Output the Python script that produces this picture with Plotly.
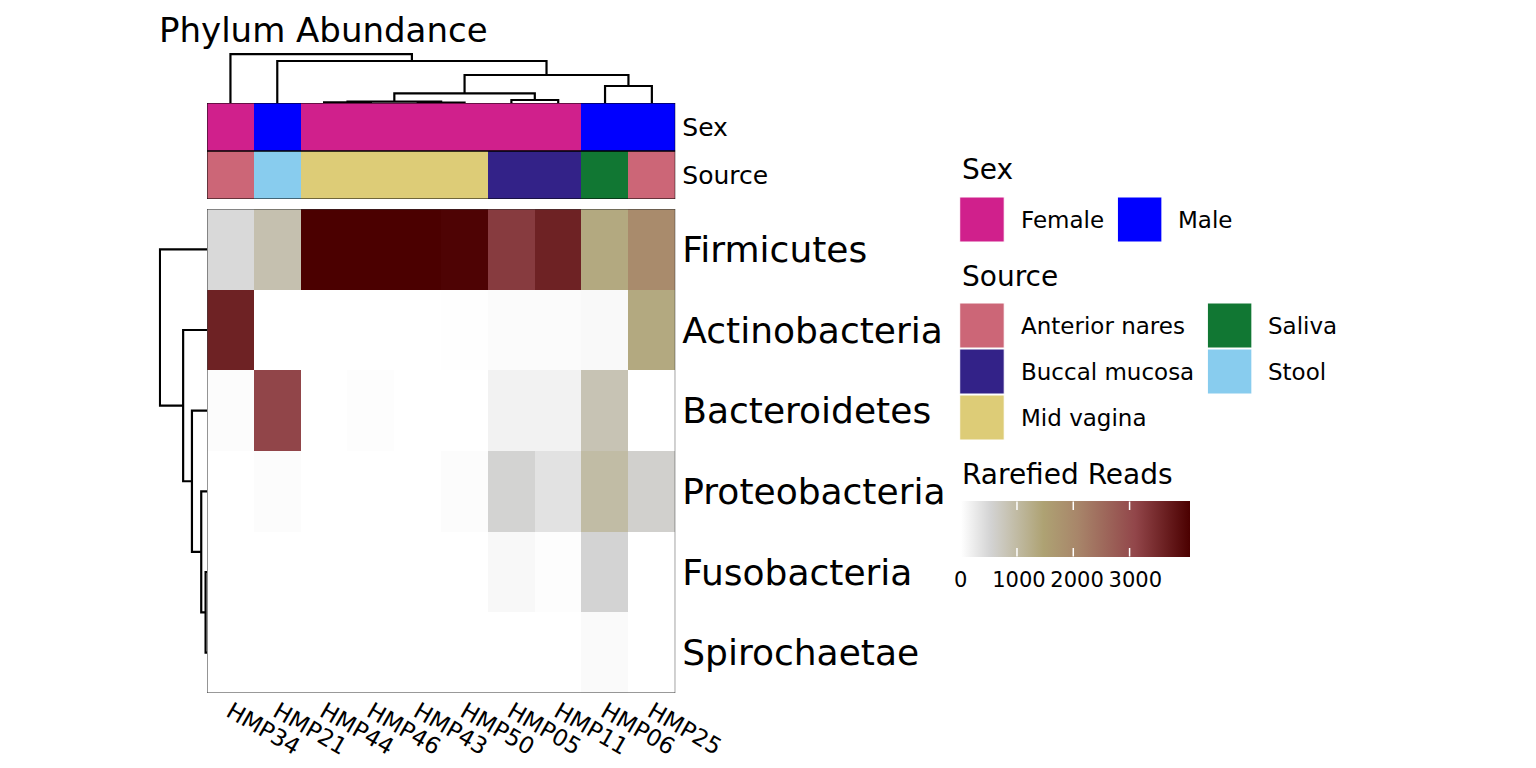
import plotly.graph_objects as go

W, H = 1536, 768
FONT = "DejaVu Sans"

# ---------------- data ----------------
samples = ["HMP34", "HMP21", "HMP44", "HMP46", "HMP43",
           "HMP50", "HMP05", "HMP11", "HMP06", "HMP25"]
phyla = ["Firmicutes", "Actinobacteria", "Bacteroidetes",
         "Proteobacteria", "Fusobacteria", "Spirochaetae"]
sex = ["Female", "Male", "Female", "Female", "Female",
       "Female", "Female", "Female", "Male", "Male"]
source = ["Anterior nares", "Stool", "Mid vagina", "Mid vagina", "Mid vagina",
          "Mid vagina", "Buccal mucosa", "Buccal mucosa", "Saliva", "Anterior nares"]

firmicutes     = [440, 855, 3935, 3935, 3935, 3890, 3135, 3470, 1290, 1895]
actinobacteria = [3470, 0, 0, 0, 3, 8, 45, 45, 70, 1290]
bacteroidetes  = [35, 3000, 0, 23, 3, 0, 150, 150, 800, 0]
proteobacteria = [0, 35, 0, 0, 0, 35, 520, 336, 945, 565]
fusobacteria   = [0, 0, 0, 0, 0, 0, 81, 23, 515, 0]
spirochaetae   = [0, 0, 0, 0, 0, 0, 0, 0, 58, 0]

sex_levels = ["Female", "Male"]
sex_colors = ["#D0208C", "#0000FF"]
source_levels = ["Anterior nares", "Buccal mucosa", "Mid vagina", "Saliva", "Stool"]
source_colors = ["#CC6677", "#332288", "#DDCC77", "#117733", "#88CCEE"]

cbar_ticks = [0, 1000, 2000, 3000]

# column dendrogram merges: (left, right, height); ints refer to earlier merges (1-based)
col_merges = [("HMP43", "HMP50", 0.3), ("HMP44", "HMP46", 0.6), (2, 1, 1.3),
              ("HMP05", "HMP11", 3.0), (3, 4, 9.7), ("HMP06", "HMP25", 17.0),
              (5, 6, 28.0), ("HMP21", 7, 42.0), ("HMP34", 8, 48.8)]
row_merges = [("Fusobacteria", "Spirochaetae", 1.5), ("Proteobacteria", 1, 6.0),
              ("Bacteroidetes", 2, 15.6), ("Actinobacteria", 3, 24.7),
              ("Firmicutes", 4, 48.7)]

# ---------------- helpers ----------------
def px_x(p):
    return p / W

def px_y(p):
    return 1 - p / H

def dendro(merges, leaves):
    pos = {}
    xs, ys = [], []
    def node(n):
        if isinstance(n, int):
            return pos[n]
        return (leaves.index(n), 0.0)
    for k, (a, b, h) in enumerate(merges, start=1):
        pa, pb = node(a), node(b)
        xs += [pa[0], pa[0], pb[0], pb[0], None]
        ys += [pa[1], h, h, pb[1], None]
        pos[k] = ((pa[0] + pb[0]) / 2, h)
    return xs, ys

colorscale = [[0.0, "#FFFFFF"], [0.13, "#D3D3D3"], [0.36, "#AEA273"],
              [0.508, "#A8866A"], [0.76, "#92464A"], [1.0, "#4B0000"]]

z = [firmicutes, actinobacteria, bacteroidetes, proteobacteria, fusobacteria, spirochaetae]
zmax = max(max(r) for r in z)

# annotation codes (placed at the centre of each discrete colour band)
all_levels = sex_levels + source_levels
all_colors = sex_colors + source_colors
nlev = len(all_levels)
ann_z = [[all_levels.index(s) + 0.5 for s in sex],
         [all_levels.index(s) + 0.5 for s in source]]
ann_cs = []
for i, c in enumerate(all_colors):
    ann_cs.append([i / nlev, c])
    ann_cs.append([(i + 1) / nlev, c])

# ---------------- layout geometry (pixels) ----------------
HM_L, HM_R, HM_T, HM_B = 214, 698, 209, 693
TR_T, TR_B = 103, 199
TD_T = 53
LD_L = 164
CB_L, CB_LEN, CB_T, CB_TH = 993, 229, 501, 56
TICK = 9

fig = go.Figure()

fig.add_trace(go.Heatmap(
    z=z, x=list(range(len(samples))), y=list(range(len(phyla))),
    colorscale=colorscale, zmin=0, zmax=zmax, xaxis="x", yaxis="y",
    hovertemplate="%{z}<extra></extra>",
    colorbar=dict(orientation="h", thickness=CB_TH, thicknessmode="pixels",
                  len=CB_LEN, lenmode="pixels", x=px_x(CB_L), xanchor="left",
                  y=px_y(CB_T), yanchor="top", xpad=0, ypad=0, outlinewidth=0,
                  tickvals=cbar_ticks, ticks="outside", ticklen=5,
                  tickcolor="rgba(0,0,0,0)",
                  tickfont=dict(family=FONT, size=21, color="black")),
))

fig.add_trace(go.Heatmap(
    z=ann_z, x=list(range(len(samples))), y=[0, 1],
    colorscale=ann_cs, zmin=0, zmax=nlev, showscale=False,
    xaxis="x2", yaxis="y2", hoverinfo="skip",
))

cx, cy = dendro(col_merges, samples)
fig.add_trace(go.Scatter(x=cx, y=cy, mode="lines", xaxis="x3", yaxis="y3",
                         line=dict(color="black", width=2.2), hoverinfo="skip",
                         showlegend=False))
rx, ry = dendro(row_merges, phyla)
fig.add_trace(go.Scatter(x=ry, y=rx, mode="lines", xaxis="x4", yaxis="y4",
                         line=dict(color="black", width=2.2), hoverinfo="skip",
                         showlegend=False))

xr = [-0.5, len(samples) - 0.5]
yr = [len(phyla) - 0.5, -0.5]
hm_xdom = [px_x(HM_L), px_x(HM_R)]
hm_ydom = [px_y(HM_B), px_y(HM_T)]

shapes = [
    dict(type="rect", xref="x", yref="y", x0=xr[0], x1=xr[1], y0=yr[1], y1=yr[0],
         line=dict(color="#333333", width=1)),
    dict(type="rect", xref="x2", yref="y2", x0=xr[0], x1=xr[1], y0=-0.5, y1=0.5,
         line=dict(color="black", width=1)),
    dict(type="rect", xref="x2", yref="y2", x0=xr[0], x1=xr[1], y0=0.5, y1=1.5,
         line=dict(color="black", width=1)),
]

annotations = [
    dict(text="Phylum Abundance", x=px_x(162), y=px_y(30), xref="paper", yref="paper",
         xanchor="left", yanchor="middle", showarrow=False,
         font=dict(family=FONT, size=34, color="black")),
]

# white tick marks on both edges of the colour bar (drawn as arrow-only annotations,
# which sit above the colour bar)
for v in cbar_ticks[1:]:
    tx = px_x(CB_L + CB_LEN * v / zmax)
    for head_px, ay in ((CB_T + TICK, -TICK), (CB_T + CB_TH - TICK, TICK)):
        annotations.append(dict(text="", x=tx, y=px_y(head_px), xref="paper",
                                yref="paper", showarrow=True, arrowhead=0,
                                arrowwidth=1.5, arrowcolor="white", ax=0, ay=ay,
                                standoff=0, startstandoff=0, borderpad=0,
                                font=dict(size=1)))

def legend_title(text, y):
    annotations.append(dict(text=text, x=px_x(992), y=px_y(y), xref="paper", yref="paper",
                            xanchor="left", yanchor="middle", showarrow=False,
                            font=dict(family=FONT, size=28, color="black")))

def legend_key(label, color, x, y):
    shapes.append(dict(type="rect", xref="paper", yref="paper",
                       x0=px_x(x), x1=px_x(x + 46), y0=px_y(y + 45), y1=px_y(y),
                       fillcolor=color, line=dict(color="white", width=1)))
    annotations.append(dict(text=label, x=px_x(x + 61), y=px_y(y + 23), xref="paper",
                            yref="paper", xanchor="left", yanchor="middle",
                            showarrow=False,
                            font=dict(family=FONT, size=23, color="black")))

legend_title("Sex", 170)
sex_x = [992, 1155]
for lab, col, x in zip(sex_levels, sex_colors, sex_x):
    legend_key(lab, col, x, 197)
legend_title("Source", 276)
for i, (lab, col) in enumerate(zip(source_levels, source_colors)):
    colx = 992 if i < 3 else 1248
    row = i if i < 3 else i - 3
    legend_key(lab, col, colx, 303 + 46 * row)
legend_title("Rarefied Reads", 474)

fig.update_layout(
    width=W, height=H, autosize=False,
    margin=dict(l=0, r=0, t=0, b=0),
    paper_bgcolor="white", plot_bgcolor="white",
    font=dict(family=FONT, color="black"),
    showlegend=False,
    xaxis=dict(domain=hm_xdom, range=xr, tickvals=list(range(len(samples))),
               ticktext=samples, tickangle=30, ticks="", showgrid=False,
               zeroline=False, showline=False,
               tickfont=dict(family=FONT, size=23, color="black")),
    yaxis=dict(domain=hm_ydom, range=yr, tickvals=list(range(len(phyla))),
               ticktext=phyla, side="right", ticks="", showgrid=False,
               zeroline=False, showline=False, ticklabelstandoff=6,
               tickfont=dict(family=FONT, size=36, color="black")),
    xaxis2=dict(domain=hm_xdom, range=xr, visible=False, anchor="y2"),
    yaxis2=dict(domain=[px_y(TR_B), px_y(TR_T)], range=[1.5, -0.5], anchor="x2",
                tickvals=[0, 1], ticktext=["Sex", "Source"], side="right",
                ticks="", showgrid=False, zeroline=False, showline=False,
                ticklabelstandoff=6,
                tickfont=dict(family=FONT, size=25, color="black")),
    xaxis3=dict(domain=hm_xdom, range=xr, visible=False, anchor="y3"),
    yaxis3=dict(domain=[px_y(TR_T), px_y(TD_T)], range=[0, 50], visible=False,
                anchor="x3"),
    xaxis4=dict(domain=[px_x(LD_L), px_x(HM_L)], range=[50, 0], visible=False,
                anchor="y4"),
    yaxis4=dict(domain=hm_ydom, range=yr, visible=False, anchor="x4"),
    shapes=shapes,
    annotations=annotations,
)

fig.write_html("out.html", include_plotlyjs=True, config={"displayModeBar": False})
